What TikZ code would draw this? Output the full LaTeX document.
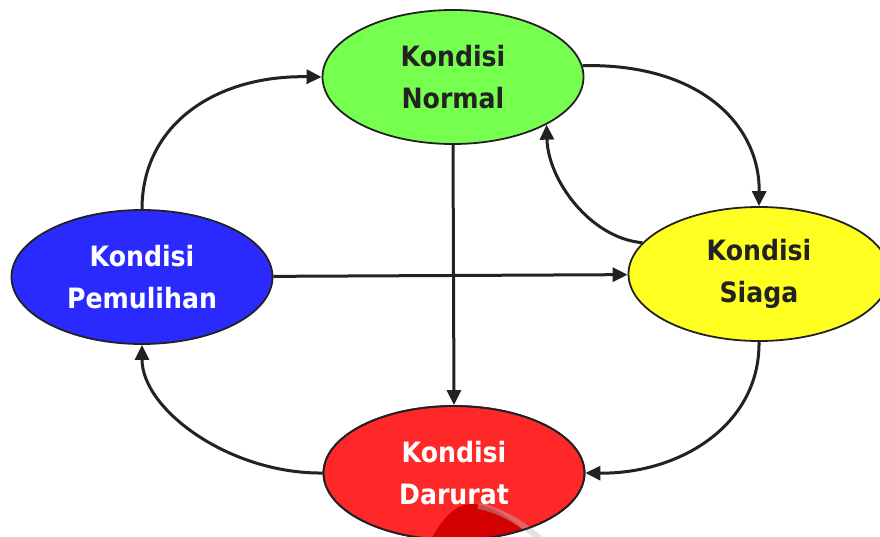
\documentclass[tikz,border=0pt]{standalone}
\usepackage{fontspec}
\setmainfont{DejaVu Sans}
\newfontfamily\statefont[FakeStretch=0.9]{DejaVu Sans}
\usetikzlibrary{shapes.geometric,arrows.meta}
\definecolor{ink}{HTML}{222222}
\definecolor{cnormal}{HTML}{77FF4F}
\definecolor{cpemulihan}{HTML}{2A2AFF}
\definecolor{csiaga}{HTML}{FFFF22}
\definecolor{cdarurat}{HTML}{FF2828}
\definecolor{cdarkred}{HTML}{D20000}
\tikzset{
  statetext/.style={align=center,
    font=\statefont\bfseries\fontsize{28}{42}\selectfont},
  state/.style={ellipse, draw=ink, line width=1.8pt, minimum width=261pt,
    minimum height=134pt, inner sep=0pt, statetext},
  link/.style={draw=ink, line width=3pt,
    -{Triangle[length=15pt,width=14pt]}},
}
\begin{document}
\begin{tikzpicture}[x=1pt,y=-1pt]
  \useasboundingbox (0,0) rectangle (880,537);
  \begin{scope}
    \clip (0,0) rectangle (880,537);

    % the four states
    \node[state, fill=cnormal, text=ink] (norm) at (453,77) {Kondisi\\Normal};
    \node[state, fill=cpemulihan, text=white] (pem) at (142,277) {Kondisi\\Pemulihan};
    \node[state, fill=csiaga, text=ink] (siaga) at (759,274) {Kondisi\\Siaga};
    \node[state, fill=cdarurat, text=white] (dar) at (454,473) {\phantom{Kondisi}\\\phantom{Darurat}};

    % shaded mound in the lower part of the Darurat ellipse
    \begin{scope}
      \clip (454,473) ellipse [x radius=130pt, y radius=66pt];
      \fill[cdarkred] (428,545) .. controls (442,518) and (455,504) .. (472,504)
        .. controls (490,504) and (515,520) .. (540,545) -- cycle;
    \end{scope}
    \draw[gray!55, opacity=0.4, line width=6pt]
      (478,506) .. controls (502,510) and (524,525) .. (548,545);
    \draw[ink, line width=1.8pt] (454,473) ellipse [x radius=130.5pt, y radius=67pt];
    \node[statetext, text=white] (dartext) at (dar.center) {Kondisi\\Darurat};

    % transitions
    \draw[link] (pem.north) .. controls (142,125) and (215,75) .. (norm.west);
    \draw[link] (norm.5) .. controls (700,63) and (760,125) .. (siaga.north);
    \draw[link] (siaga.165) .. controls (590,238) and (548,180) .. (norm.333);
    \draw[link] (pem) -- (siaga);
    \draw[link] (norm.south) -- (dar.north);
    \draw[link] (siaga.south) .. controls (760,425) and (680,474) .. (dar.east);
    \draw[link] (dar.west) .. controls (230,474) and (142,410) .. (pem.south);
  \end{scope}
\end{tikzpicture}
\end{document}
